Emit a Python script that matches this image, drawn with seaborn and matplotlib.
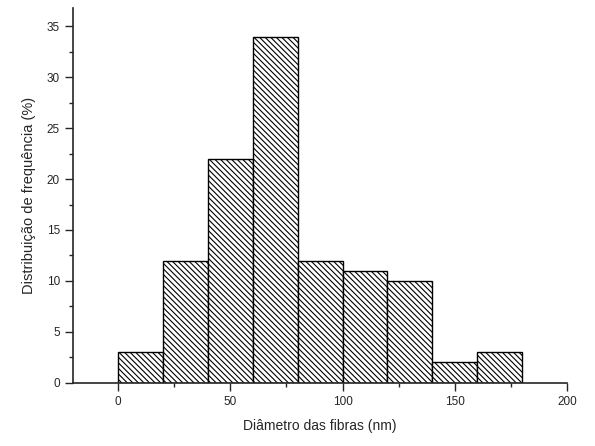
import numpy as np
import seaborn as sns
import matplotlib.pyplot as plt
from matplotlib.ticker import MultipleLocator

# bins of fibre diameter (nm) and frequency (%)
bin_edges = [0, 20, 40, 60, 80, 100, 120, 140, 160, 180]
freq = [3, 12, 22, 34, 12, 11, 10, 2, 3]
centers = [(a + b) / 2 for a, b in zip(bin_edges[:-1], bin_edges[1:])]

sns.set_style('ticks')
plt.rcParams['font.family'] = ['Liberation Sans', 'DejaVu Sans']
plt.rcParams['hatch.linewidth'] = 0.8

fig = plt.figure(figsize=(5.95, 4.46), dpi=100)
ax = fig.add_axes([0.123, 0.142, 0.830, 0.840])

sns.histplot(x=centers, weights=freq, bins=bin_edges, color='white',
             edgecolor='black', linewidth=1.0, hatch='\\\\\\\\\\\\', alpha=1, ax=ax)

ax.set_xlim(-20, 200)
ax.set_ylim(0, 36.8)
ax.xaxis.set_major_locator(MultipleLocator(50))
ax.xaxis.set_minor_locator(MultipleLocator(25))
ax.yaxis.set_major_locator(MultipleLocator(5))
ax.yaxis.set_minor_locator(MultipleLocator(2.5))
ax.tick_params(which='major', length=6, width=1, labelsize=8.5, direction='out')
ax.tick_params(which='minor', length=3, width=1, direction='out')
for s in ['top', 'right']:
    ax.spines[s].set_visible(False)
for s in ['left', 'bottom']:
    ax.spines[s].set_linewidth(1.2)

ax.set_xlabel('Diâmetro das fibras (nm)', fontsize=10, labelpad=8)
ax.set_ylabel('Distribuição de frequência (%)', fontsize=10.5, labelpad=8)

fig.savefig('out.png', dpi=100)
